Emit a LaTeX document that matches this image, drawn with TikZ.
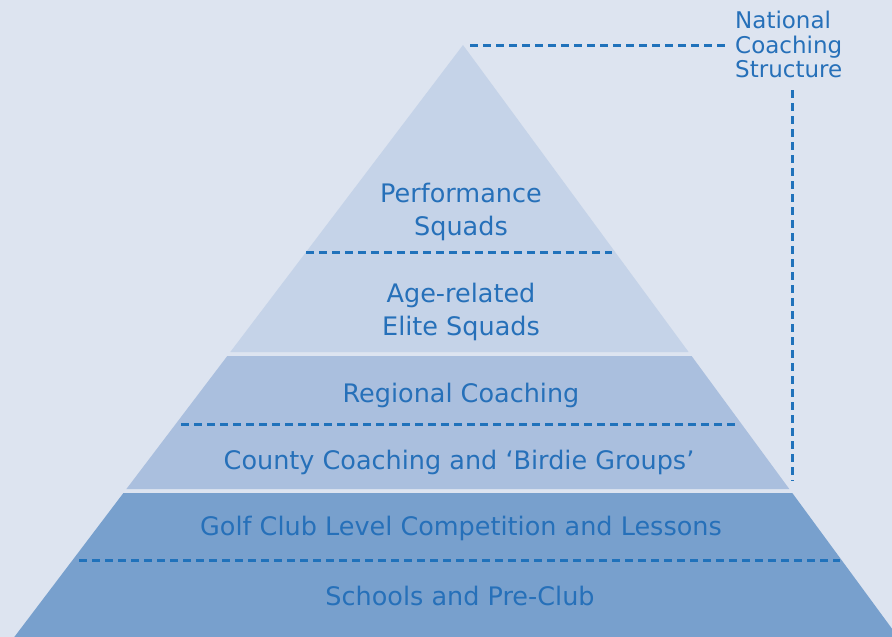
\documentclass[tikz,border=0pt]{standalone}
\usepackage{fontspec}
\setmainfont{DejaVu Sans}
\definecolor{bgc}{HTML}{DDE4F0}
\definecolor{topc}{HTML}{C5D3E8}
\definecolor{midc}{HTML}{AABFDE}
\definecolor{botc}{HTML}{78A0CD}
\definecolor{txtc}{HTML}{2670B9}
\definecolor{dashc}{HTML}{2072BB}
\tikzset{
  lbl/.style={text=txtc, font=\fontsize{25.5}{33}\selectfont, align=center, inner sep=0pt},
  sidelbl/.style={text=txtc, font=\fontsize{23}{24.5}\selectfont, align=left, inner sep=0pt, anchor=north west},
  dline/.style={draw=dashc, line width=3pt, dash pattern=on 8pt off 5pt}
}
\begin{document}
\begin{tikzpicture}[x=1pt,y=-1pt]
\fill[bgc] (0,0) rectangle (892,637);
\useasboundingbox (0,0) rectangle (892,637);
\begin{scope}
\clip (0,0) rectangle (892,637);
\fill[topc] (463,45) -- (688.6,352) -- (230.3,352) -- cycle;
\fill[midc] (227.3,356) -- (691.6,356) -- (789.3,489) -- (126.4,489) -- cycle;
\fill[botc] (123.4,493) -- (792.3,493) -- (898.1,637) -- (14.3,637) -- cycle;
\end{scope}
% dashed dividers
\coordinate (d1a) at (306,252); \coordinate (d1b) at (612,252);
\coordinate (d2a) at (181,424); \coordinate (d2b) at (738,424);
\coordinate (d3a) at (79,560); \coordinate (d3b) at (840,560);
\draw[dline] (d1a) -- (d1b);
\draw[dline] (d2a) -- (d2b);
\draw[dline] (d3a) -- (d3b);
% labels
\node[lbl] (ps) at (461,212) {Performance\\Squads};
\node[lbl] (ae) at (461,312) {Age-related\\Elite Squads};
\node[lbl] (rc) at (461,395) {Regional Coaching};
\node[lbl] (cc) at (459,462) {County Coaching and ‘Birdie Groups’};
\node[lbl] (gc) at (461,528) {Golf Club Level Competition and Lessons};
\node[lbl] (sp) at (460,596) {Schools and Pre-Club};
\node[sidelbl] (ncs) at (735,11) {National\\Coaching\\Structure};
% bracket
\coordinate (apex) at (470,45);
\coordinate (hr) at (726,45);
\coordinate (vt) at (792,90);
\coordinate (vb) at (792,481);
\draw[dline] (apex) -- (hr);
\draw[dline] (vt) -- (vb);
\end{tikzpicture}
\end{document}
